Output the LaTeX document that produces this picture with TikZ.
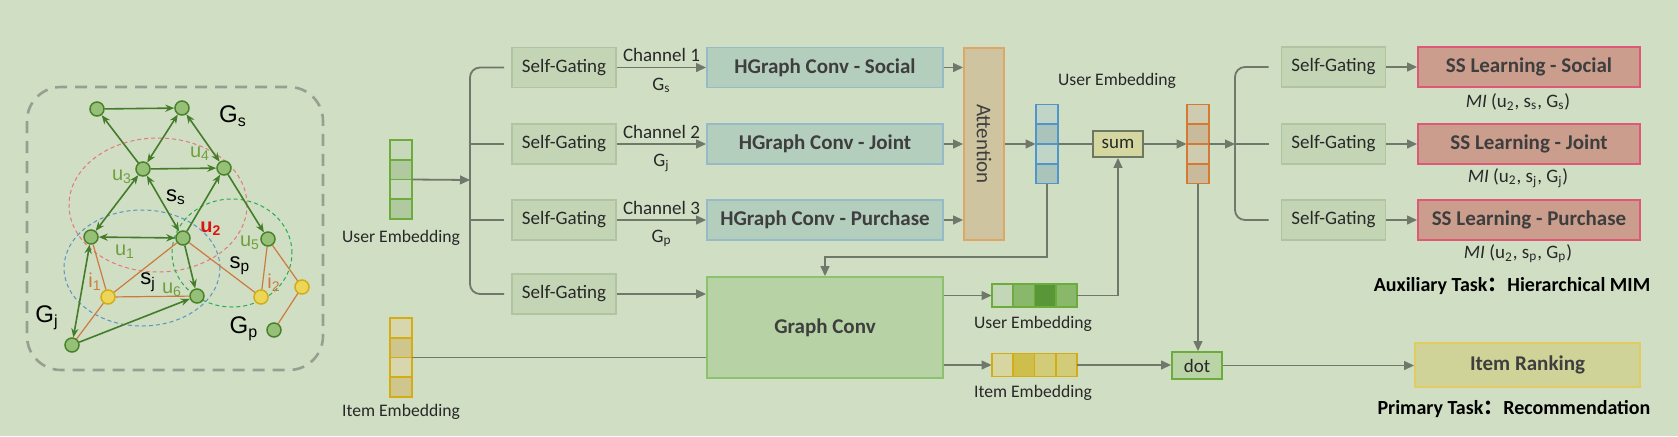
\documentclass[tikz,border=0pt]{standalone}
\usepackage{fontspec}
\setmainfont{Carlito}
\newfontfamily\arialfont{Liberation Sans}
\newfontfamily\cjk{Noto Sans CJK SC}
\usetikzlibrary{positioning,calc,arrows.meta,fit}
\definecolor{BgGreen}{RGB}{208,222,196}
\definecolor{LineGray}{RGB}{112,120,108}
\definecolor{TextDark}{RGB}{40,40,40}
\definecolor{BoldGray}{RGB}{62,62,62}
\definecolor{GateFill}{RGB}{196,213,182}
\definecolor{GateDraw}{RGB}{176,196,162}
\definecolor{HConvFill}{RGB}{180,206,190}
\definecolor{HConvDraw}{RGB}{150,186,200}
\definecolor{AttFill}{RGB}{206,196,160}
\definecolor{AttDraw}{RGB}{224,165,105}
\definecolor{ConvFill}{RGB}{183,211,166}
\definecolor{ConvDraw}{RGB}{140,193,110}
\definecolor{SSFill}{RGB}{202,157,141}
\definecolor{SSDraw}{RGB}{224,88,120}
\definecolor{RankFill}{RGB}{207,211,152}
\definecolor{RankDraw}{RGB}{224,204,96}
\definecolor{SumFill}{RGB}{212,216,160}
\definecolor{SumDraw}{RGB}{110,118,100}
\definecolor{DotFill}{RGB}{186,212,168}
\definecolor{EmbGreen}{RGB}{108,172,60}
\definecolor{EmbBlue}{RGB}{80,150,200}
\definecolor{EmbOrange}{RGB}{212,122,50}
\definecolor{EmbYellow}{RGB}{212,172,20}
\definecolor{UeLight}{RGB}{200,216,186}
\definecolor{UeDark}{RGB}{176,201,158}
\definecolor{IeLight}{RGB}{216,214,172}
\definecolor{IeDark}{RGB}{206,198,140}
\definecolor{BeLight}{RGB}{192,212,200}
\definecolor{BeDark}{RGB}{170,196,188}
\definecolor{OeLight}{RGB}{206,203,176}
\definecolor{OeDark}{RGB}{201,186,155}
\definecolor{HuA}{RGB}{196,214,184}
\definecolor{HuB}{RGB}{138,184,106}
\definecolor{HuC}{RGB}{88,150,55}
\definecolor{HiA}{RGB}{216,214,160}
\definecolor{HiB}{RGB}{206,190,75}
\definecolor{HiC}{RGB}{210,204,120}
\definecolor{NodeGreen}{RGB}{150,192,120}
\definecolor{NodeDark}{RGB}{72,130,42}
\definecolor{NodeYellow}{RGB}{236,214,90}
\definecolor{EdgeGreen}{RGB}{68,124,42}
\definecolor{EdgeOrange}{RGB}{206,122,62}
\definecolor{LabelGreen}{RGB}{112,160,62}
\definecolor{LabelRed}{RGB}{220,20,20}
\definecolor{EllRed}{RGB}{226,122,122}
\definecolor{EllBlue}{RGB}{88,150,192}
\definecolor{EllGreen}{RGB}{40,172,80}
\definecolor{FrameGray}{RGB}{150,160,145}

\begin{document}
\begin{tikzpicture}[
    x=0.5pt, y=-0.5pt,
    font=\fontsize{9.5}{11}\selectfont,
    text=TextDark,
    >={Triangle[length=5pt,width=4.4pt]},
    gatebox/.style={
        draw=GateDraw,
        fill=GateFill,
        line width=0.9pt,
        minimum width=52pt,
        minimum height=20pt,
        inner sep=0pt
    },
    hconvbox/.style={
        draw=HConvDraw,
        fill=HConvFill,
        line width=0.9pt,
        minimum width=118pt,
        minimum height=20pt,
        inner sep=0pt,
        text=BoldGray,
        font=\fontsize{10.5}{12}\selectfont\bfseries
    },
    ssbox/.style={
        draw=SSDraw,
        fill=SSFill,
        line width=0.9pt,
        minimum width=111pt,
        minimum height=20pt,
        inner sep=0pt,
        text=BoldGray,
        font=\fontsize{10.5}{12}\selectfont\bfseries
    },
    opbox/.style={
        line width=0.9pt,
        minimum width=25pt,
        minimum height=13pt,
        inner sep=0pt
    },
    cell/.style={
        draw,
        line width=0.8pt,
        inner sep=0pt,
        outer sep=0pt
    },
    vcell/.style={cell, minimum width=11pt, minimum height=9.875pt},
    hcell/.style={cell, minimum width=10.625pt, minimum height=11.5pt},
    emblabel/.style={font=\fontsize{8.8}{10}\selectfont},
    tasklabel/.style={font=\fontsize{10}{12}\selectfont\bfseries, text=black},
    arrow/.style={->, draw=LineGray, line width=0.9pt},
    link/.style={draw=LineGray, line width=0.9pt},
    gnode/.style={circle, draw=NodeDark, fill=NodeGreen, line width=0.75pt, minimum size=7pt, inner sep=0pt},
    ynode/.style={circle, draw=EmbYellow, fill=NodeYellow, line width=0.75pt, minimum size=7pt, inner sep=0pt},
    gedge/.style={draw=EdgeGreen, line width=0.8pt},
    oedge/.style={draw=EdgeOrange, line width=0.6pt},
    ellipseline/.style={line width=0.5pt, dash pattern=on 2pt off 1.5pt},
    glabel/.style={font=\arialfont\fontsize{12}{14}\selectfont, text=black},
    slabel/.style={font=\arialfont\fontsize{11}{13}\selectfont, text=black},
    ulabel/.style={font=\arialfont\fontsize{10}{12}\selectfont, text=LabelGreen},
    ilabel/.style={font=\arialfont\fontsize{10}{12}\selectfont, text=EdgeOrange}
]

\fill[BgGreen] (0,0) rectangle (1678,436);
\useasboundingbox (0,0) rectangle (1678,436);

% =========================
% left: three-view graph
% =========================
\draw[FrameGray, line width=1.3pt, dash pattern=on 6pt off 4pt, rounded corners=17pt] (27,87) rectangle (323,370);

\draw[ellipseline, EllRed] (158,205) ellipse [x radius=44.5pt, y radius=33.5pt];
\draw[ellipseline, EllBlue] (142,268) ellipse [x radius=39pt, y radius=29pt];
\draw[ellipseline, EllGreen] (232,253) ellipse [x radius=30pt, y radius=27pt];

\node[gnode] (sa) at (97,109) {};
\node[gnode] (sb) at (182,108) {};
\node[gnode] (u3) at (143,169) {};
\node[gnode] (u4) at (224,168) {};
\node[gnode] (u1) at (91,237) {};
\node[gnode] (u2) at (183,238) {};
\node[gnode] (u5) at (268,239) {};
\node[gnode] (u6) at (197,296) {};
\node[gnode] (ja) at (72,345) {};
\node[gnode] (pa) at (274,330) {};
\node[ynode] (i1) at (108,297) {};
\node[ynode] (i2) at (261,297) {};
\node[ynode] (i3) at (302,287) {};

\draw[oedge] (u1) -- (i1);
\draw[oedge] (i1) -- (u2);
\draw[oedge] (i1) -- (u6);
\draw[oedge] (i1) -- (ja);
\draw[oedge] (u2) -- (i2);
\draw[oedge] (u5) -- (i2);
\draw[oedge] (u5) -- (i3);
\draw[oedge] (i3) -- (pa);

\begin{scope}[>={Stealth[length=4.5pt,width=3.6pt]}]
\draw[gedge, ->] (sa) -- (sb);
\draw[gedge, ->] (u3) -- (sa);
\draw[gedge, <->] (u3) -- (sb);
\draw[gedge, <->] (sb) -- (u4);
\draw[gedge, ->] (u3) -- (u4);
\draw[gedge, <->] (u3) -- (u1);
\draw[gedge, <->] (u3) -- (u2);
\draw[gedge, <->] (u1) -- (u2);
\draw[gedge, ->] (u2) -- (u4);
\draw[gedge, ->] (u4) -- (u5);
\draw[gedge, ->] (u2) -- (u6);
\draw[gedge, <->] (ja) -- (u1);
\draw[gedge, ->] (ja) -- (u6);
\end{scope}

\node[glabel] (lgs) at (233,116) {G\textsubscript{s}};
\node[glabel] (lgj) at (47,318) {G\textsubscript{j}};
\node[glabel] (lgp) at (244,329) {G\textsubscript{p}};
\node[slabel] (lss) at (176,197) {s\textsubscript{s}};
\node[slabel] (lsj) at (148,282) {s\textsubscript{j}};
\node[slabel] (lsp) at (240,266) {s\textsubscript{p}};
\node[ulabel] (lu1) at (125,252) {u\textsubscript{1}};
\node[ulabel, text=LabelRed, font=\arialfont\fontsize{10}{12}\selectfont\bfseries] (lu2) at (211,229) {u\textsubscript{2}};
\node[ulabel] (lu3) at (122,177) {u\textsubscript{3}};
\node[ulabel] (lu4) at (200,154) {u\textsubscript{4}};
\node[ulabel] (lu5) at (250,243) {u\textsubscript{5}};
\node[ulabel] (lu6) at (172,290) {u\textsubscript{6}};
\node[ilabel] (li1) at (95,282) {i\textsubscript{1}};
\node[ilabel] (li2) at (274,283) {i\textsubscript{2}};

% =========================
% input embeddings
% =========================
\node[vcell, draw=EmbGreen, fill=UeLight] (ue1) at (401,149.875) {};
\node[vcell, draw=EmbGreen, fill=UeDark] (ue2) at (401,169.625) {};
\node[vcell, draw=EmbGreen, fill=UeLight] (ue3) at (401,189.375) {};
\node[vcell, draw=EmbGreen, fill=UeDark] (ue4) at (401,209.125) {};
\node[fit=(ue1)(ue4), inner sep=0pt] (uemb) {};
\node[emblabel] (luemb) at (401,238) {User Embedding};

\node[vcell, draw=EmbYellow, fill=IeLight] (ie1) at (401,327.875) {};
\node[vcell, draw=EmbYellow, fill=IeDark] (ie2) at (401,347.625) {};
\node[vcell, draw=EmbYellow, fill=IeLight] (ie3) at (401,367.375) {};
\node[vcell, draw=EmbYellow, fill=IeDark] (ie4) at (401,387.125) {};
\node[fit=(ie1)(ie4), inner sep=0pt] (iemb) {};
\node[emblabel] (liemb) at (401,412) {Item Embedding};

% =========================
% channels
% =========================
\coordinate (ubr) at (470,180);

\node[gatebox] (sg1) at (564,67.5) {Self-Gating};
\node[gatebox] (sg2) at (564,144) {Self-Gating};
\node[gatebox] (sg3) at (564,220) {Self-Gating};
\node[gatebox] (sg4) at (564,294) {Self-Gating};

\node[hconvbox] (hc1) at (825,67.5) {HGraph Conv - Social};
\node[hconvbox] (hc2) at (825,144) {HGraph Conv - Joint};
\node[hconvbox] (hc3) at (825,220) {HGraph Conv - Purchase};

\node[draw=AttDraw, fill=AttFill, line width=0.9pt, minimum width=96pt, minimum height=20pt,
      inner sep=0pt, text=BoldGray, font=\fontsize{10.5}{12}\selectfont, rotate=-90] (att) at (984,144) {Attention};

\node[draw=ConvDraw, fill=ConvFill, line width=0.9pt, minimum width=118pt, minimum height=50.5pt,
      text=BoldGray, font=\fontsize{10.5}{12}\selectfont\bfseries] (gc) at (825,327.5) {Graph Conv};

\draw[arrow] (uemb.east) -- (ubr);
\draw[link, rounded corners=5pt, shorten <=3.5pt, shorten >=3.5pt] (sg1.west) -| (ubr) |- (sg4.west);
\draw[link, shorten >=3.5pt] (ubr |- sg2.west) -- (sg2.west);
\draw[link, shorten >=3.5pt] (ubr |- sg3.west) -- (sg3.west);

\draw[arrow] (sg1.east) -- node[above=-1pt] {Channel 1} node[below=1.5pt] {G\textsubscript{s}} (hc1.west);
\draw[arrow] (sg2.east) -- node[above=-1pt] {Channel 2} node[below=1.5pt] {G\textsubscript{j}} (hc2.west);
\draw[arrow] (sg3.east) -- node[above=-1pt] {Channel 3} node[below=1.5pt] {G\textsubscript{p}} (hc3.west);
\draw[arrow] (sg4.east) -- (sg4.east -| gc.west);
\draw[link] (iemb.east) -- (iemb.east -| gc.west);

\draw[arrow] (hc1.east) -- (hc1.east -| att.south);
\draw[arrow] (hc2.east) -- (hc2.east -| att.south);
\draw[arrow] (hc3.east) -- (hc3.east -| att.south);

% =========================
% fused user embedding
% =========================
\node[vcell, draw=EmbBlue, fill=BeLight] (be1) at (1047,114.375) {};
\node[vcell, draw=EmbBlue, fill=BeDark] (be2) at (1047,134.125) {};
\node[vcell, draw=EmbBlue, fill=BeLight] (be3) at (1047,153.875) {};
\node[vcell, draw=EmbBlue, fill=BeDark] (be4) at (1047,173.625) {};
\node[fit=(be1)(be4), inner sep=0pt] (bemb) {};
\node[emblabel] (lbemb) at (1117,81) {User Embedding};

\node[opbox, draw=SumDraw, fill=SumFill] (sum) at (1118,144) {sum};

\node[vcell, draw=EmbOrange, fill=OeLight] (oe1) at (1198,114.375) {};
\node[vcell, draw=EmbOrange, fill=OeDark] (oe2) at (1198,134.125) {};
\node[vcell, draw=EmbOrange, fill=OeLight] (oe3) at (1198,153.875) {};
\node[vcell, draw=EmbOrange, fill=OeDark] (oe4) at (1198,173.625) {};
\node[fit=(oe1)(oe4), inner sep=0pt] (oemb) {};

\node[hcell, draw=EmbGreen, fill=HuA] (hu1) at (1002.625,295.5) {};
\node[hcell, draw=EmbGreen, fill=HuB] (hu2) at (1023.875,295.5) {};
\node[hcell, draw=EmbGreen, fill=HuC] (hu3) at (1045.125,295.5) {};
\node[hcell, draw=EmbGreen, fill=HuB] (hu4) at (1066.375,295.5) {};
\node[fit=(hu1)(hu4), inner sep=0pt] (huemb) {};
\node[emblabel] (lhuemb) at (1033,324) {User Embedding};

\node[hcell, draw=EmbYellow, fill=HiA] (hi1) at (1002.625,365) {};
\node[hcell, draw=EmbYellow, fill=HiB] (hi2) at (1023.875,365) {};
\node[hcell, draw=EmbYellow, fill=HiC] (hi3) at (1045.125,365) {};
\node[hcell, draw=EmbYellow, fill=HiC] (hi4) at (1066.375,365) {};
\node[fit=(hi1)(hi4), inner sep=0pt] (hiemb) {};
\node[emblabel] (lhiemb) at (1033,393) {Item Embedding};

\node[opbox, draw=EmbGreen, fill=DotFill, minimum height=13.5pt] (dot) at (1197,365.5) {dot};

\coordinate (gcin) at (825,257);

\draw[arrow] (att.north) -- (att.north -| bemb.west);
\draw[link, line width=1.2pt] (bemb.east) -- (bemb.east -| sum.west);
\draw[arrow] (sum.east) -- (sum.east -| oemb.west);
\draw[arrow] (bemb.south) |- (gcin) -- (gc.north);
\draw[arrow] (gc.east |- huemb.west) -- (huemb.west);
\draw[arrow] (huemb.east) -| (sum.south);
\draw[arrow] (gc.east |- hiemb.west) -- (hiemb.west);
\draw[arrow] (hiemb.east) -- (hiemb.east -| dot.west);
\draw[arrow] (oemb.south) -- (oemb.south |- dot.north);

% =========================
% right: tasks
% =========================
\coordinate (rbr) at (1235,144);

\node[gatebox] (sgr1) at (1333.5,67) {Self-Gating};
\node[gatebox] (sgr2) at (1333.5,144) {Self-Gating};
\node[gatebox] (sgr3) at (1333.5,220) {Self-Gating};

\node[ssbox] (ss1) at (1529,67) {SS Learning - Social};
\node[ssbox] (ss2) at (1529,144) {SS Learning - Joint};
\node[ssbox] (ss3) at (1529,220) {SS Learning - Purchase};

\node (mi1) at (1518,102) {\textit{MI} (u\textsubscript{2}, s\textsubscript{s}, G\textsubscript{s})};
\node (mi2) at (1518,178) {\textit{MI} (u\textsubscript{2}, s\textsubscript{j}, G\textsubscript{j})};
\node (mi3) at (1518,254) {\textit{MI} (u\textsubscript{2}, s\textsubscript{p}, G\textsubscript{p})};

\node[tasklabel] (aux) at (1512,286) {Auxiliary Task{\cjk ：}Hierarchical MIM};

\node[draw=RankDraw, fill=RankFill, line width=0.9pt, minimum width=112.5pt, minimum height=22pt,
      text=BoldGray, font=\fontsize{10.5}{12}\selectfont\bfseries] (rank) at (1527.5,365) {Item Ranking};

\node[tasklabel] (prim) at (1514,409) {Primary Task{\cjk ：}Recommendation};

\draw[arrow] (oemb.east) -- (oemb.east -| rbr);
\draw[link, rounded corners=5pt, shorten <=6pt, shorten >=6pt] (sgr1.west) -| (rbr) |- (sgr3.west);
\draw[link, shorten >=6pt] (rbr) -- (sgr2.west);

\draw[arrow] (sgr1.east) -- (ss1.west);
\draw[arrow] (sgr2.east) -- (ss2.west);
\draw[arrow] (sgr3.east) -- (ss3.west);
\draw[arrow] (dot.east) -- (dot.east -| rank.west);

\end{tikzpicture}
\end{document}
